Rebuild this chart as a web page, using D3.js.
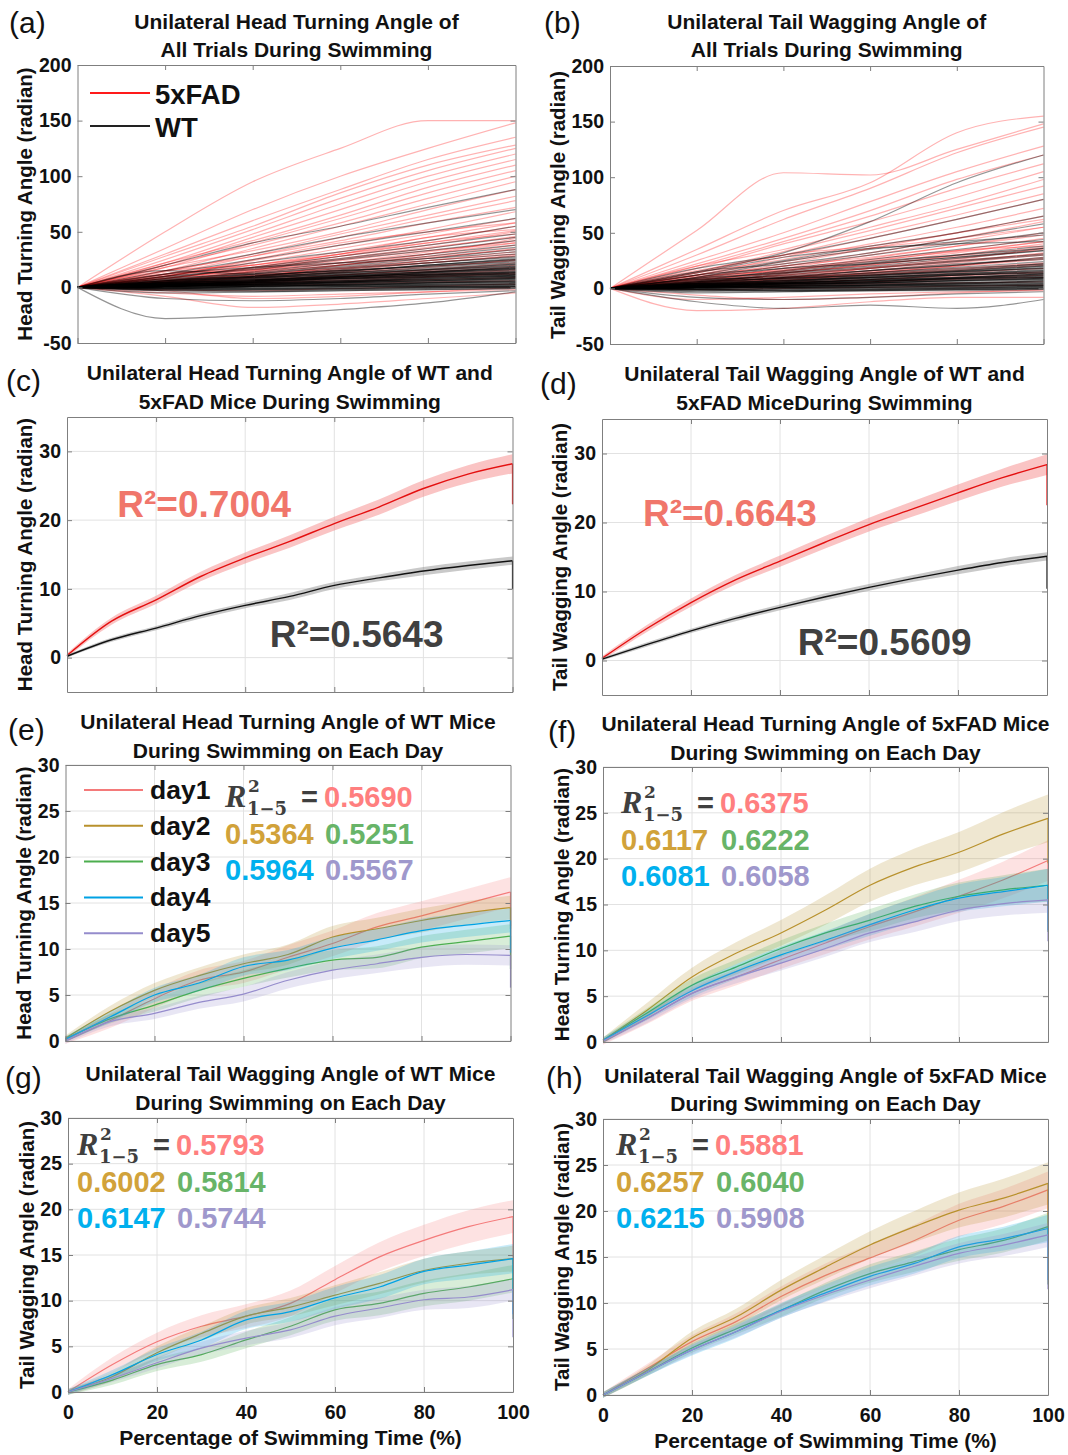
<!DOCTYPE html>
<html>
<head>
<meta charset="utf-8">
<script src="https://cdn.jsdelivr.net/npm/d3@7"></script>
<style>
  body { margin: 0; background: #fff; }
  svg { display: block; font-family: "Liberation Sans", Arial, sans-serif; }
</style>
</head>
<body>
<svg width="1068" height="1455"></svg>
<script>
// ---- data: single trials (panels a, b), values at tracePct ----
var tracePct = [0, 20, 40, 60, 80, 100];

var headFADTrials = [
  [0,50,95,125,150,150],[0,35,70,100,125,148],[0,30,60,88,115,135],[0,28,55,85,110,128],
  [0,25,52,80,105,125],[0,22,48,75,100,120],[0,20,45,70,95,115],[0,22,42,65,90,110],
  [0,18,40,62,85,105],[0,20,38,58,80,100],[0,15,35,55,75,95],[0,18,33,50,70,88],
  [0,14,30,48,65,82],[0,12,28,45,62,78],[0,15,28,42,58,72],[0,10,24,38,52,68],
  [0,12,22,35,48,62],[0,10,20,32,45,58],[0,8,18,30,42,55],[0,10,18,28,38,50],
  [0,8,16,25,35,46],[0,6,14,22,32,42],[0,8,14,20,28,38],[0,5,12,18,26,35],
  [0,6,10,16,24,32],[0,4,10,15,22,28],[0,5,8,13,18,25],[0,3,7,11,16,22],
  [0,4,6,9,14,18],[0,2,5,8,11,15],[0,3,4,6,9,12],[0,1,3,5,7,9],
  [0,2,2,3,5,6],[0,-2,-3,-1,1,3],[0,-5,-8,-6,-4,-2],[0,-8,-18,-15,-10,-5],
  [0,-3,-10,-8,-4,0],[0,10,25,40,50,58],[0,15,20,30,45,52],[0,6,15,28,40,48],
  [0,12,16,22,30,40],[0,3,9,20,30,44],[0,7,13,20,27,34],[0,5,11,17,24,30],
  [0,9,15,24,33,40],[0,4,9,14,19,24],[0,3,6,11,15,20],[0,2,5,9,12,16],
  [0,6,11,17,22,29],[0,1,4,7,10,13],[0,8,17,26,36,45],[0,11,20,30,40,51]
];
var headWTTrials = [
  [0,20,40,55,72,88],[0,15,30,45,58,70],[0,12,25,38,50,62],[0,10,22,32,42,55],
  [0,8,18,28,38,48],[0,10,16,25,33,42],[0,7,14,22,30,38],[0,6,12,19,26,34],
  [0,8,12,18,24,30],[0,5,10,16,22,28],[0,6,9,14,20,25],[0,4,8,13,18,22],
  [0,5,8,12,16,20],[0,3,7,10,14,18],[0,4,6,9,13,16],[0,2,5,8,11,14],
  [0,3,5,7,10,12],[0,2,4,6,8,10],[0,1,3,5,7,9],[0,2,3,4,6,8],
  [0,1,2,3,5,6],[0,0,1,2,3,4],[0,1,1,1,2,3],[0,-1,0,1,1,2],
  [0,-2,-1,0,1,1],[0,-3,-2,-1,0,0],[0,-5,-4,-3,-2,-1],[0,-28,-25,-20,-14,-4],
  [0,-10,-12,-10,-6,-3],[0,15,12,15,20,25],[0,12,18,22,26,32],[0,6,11,15,19,23],
  [0,3,8,12,15,19],[0,4,7,10,12,15],[0,5,9,11,14,17],[0,2,6,9,12,13],
  [0,3,4,8,9,11],[0,1,4,6,9,11],[0,2,2,5,7,9],[0,1,3,4,5,7],
  [0,6,13,20,28,36],[0,9,17,26,35,45],[0,4,9,14,20,26],[0,7,10,17,22,27],
  [0,2,6,11,16,21],[0,3,5,9,13,17],[0,1,2,4,6,8],[0,-1,1,2,4,5],
  [0,0,-1,-1,0,1],[0,-2,-3,-2,-1,0],
  [0,3,6,10,14,17],[0,2,5,9,13,16],[0,4,7,9,11,14],[0,1,4,7,10,13],
  [0,3,5,8,10,12],[0,2,4,6,9,11],[0,1,3,5,8,10],[0,2,3,6,7,9],
  [0,1,2,4,6,7],[0,0,2,3,4,6],[0,1,1,3,4,5],[0,-1,1,2,3,4],
  [0,0,0,1,2,3],[0,-1,-1,0,1,2],[0,-2,-2,-1,0,1],[0,5,10,15,19,24],
  [0,4,9,13,17,21],[0,6,10,13,16,19],[0,3,7,11,14,18],[0,2,6,10,12,14],
  [0,4,6,8,11,13],[0,1,5,8,11,12],[0,3,4,5,8,10],[0,2,3,5,6,8],
  [0,1,2,2,4,5],[0,0,1,2,2,3],[0,-3,-4,-3,-2,-1],[0,-1,-2,-2,-1,0]
];
var tailFADTrials = [
  [0,35,70,95,140,155],[0,52,104,102,125,148],[0,30,62,90,122,145],[0,25,50,78,105,128],
  [0,22,45,70,98,120],[0,20,42,65,90,112],[0,18,40,60,82,105],[0,20,35,55,75,98],
  [0,15,33,52,72,92],[0,16,30,48,66,85],[0,12,28,45,62,80],[0,14,26,40,55,72],
  [0,10,22,36,50,65],[0,12,20,32,45,60],[0,8,18,30,42,55],[0,10,17,27,38,50],
  [0,7,15,24,34,45],[0,8,14,21,30,40],[0,6,12,19,27,35],[0,5,10,16,23,30],
  [0,6,9,14,20,26],[0,4,8,12,17,22],[0,3,6,10,14,18],[0,4,5,8,11,14],
  [0,2,4,6,8,10],[0,1,2,4,5,6],[0,-1,0,1,2,3],[0,-10,-8,-5,-3,-2],
  [0,-20,-18,-12,-8,-8],[0,-6,-10,-8,-4,-1],[0,12,24,36,45,55],[0,9,20,28,38,48],
  [0,14,30,38,50,62],[0,5,13,22,32,42],[0,3,9,18,26,36],[0,8,11,18,24,32],
  [0,2,7,14,20,28],[0,11,16,26,34,38],[0,6,12,18,25,31],[0,4,9,15,21,27],
  [0,7,14,21,29,37],[0,3,7,12,16,21],[0,2,5,8,12,15],[0,5,10,13,18,23],
  [0,9,16,25,33,42],[0,1,3,6,9,12]
];
var tailWTTrials = [
  [0,15,32,60,95,120],[0,18,30,45,62,80],[0,12,25,38,50,65],[0,15,22,32,45,58],
  [0,10,20,30,40,50],[0,12,18,26,35,44],[0,8,15,23,30,38],[0,9,14,20,27,34],
  [0,6,12,18,24,30],[0,7,11,16,21,27],[0,5,9,14,19,24],[0,6,9,12,16,21],
  [0,4,7,11,15,18],[0,5,7,10,13,16],[0,3,6,9,12,14],[0,4,5,7,10,12],
  [0,2,4,6,8,10],[0,3,4,5,7,8],[0,1,3,4,5,6],[0,2,2,3,4,5],
  [0,1,1,2,3,3],[0,0,1,1,2,2],[0,-1,0,0,1,1],[0,-2,-1,-1,0,0],
  [0,-4,-3,-2,-1,-1],[0,-12,-18,-15,-18,-10],[0,-8,-10,-8,-5,-3],[0,10,24,35,42,48],
  [0,14,28,36,40,42],[0,7,16,24,30,36],[0,5,13,19,25,31],[0,8,10,16,22,26],
  [0,3,8,13,17,22],[0,4,6,10,14,19],[0,2,5,8,12,15],[0,3,3,6,9,13],
  [0,1,2,5,7,9],[0,2,1,3,4,7],[0,0,2,3,3,4],[0,-1,-2,-1,0,2],
  [0,6,14,22,28,34],[0,4,10,16,21,28],[0,9,18,22,28,36],[0,2,6,11,15,20],
  [0,1,4,8,10,13],
  [0,3,6,9,13,17],[0,2,5,8,12,15],[0,4,7,10,12,14],[0,1,4,6,9,12],
  [0,3,5,7,9,11],[0,2,4,6,8,10],[0,1,3,5,7,9],[0,2,3,5,6,8],
  [0,1,2,3,5,7],[0,0,2,3,4,5],[0,1,1,2,3,4],[0,-1,0,1,2,3],
  [0,0,0,1,1,2],[0,-1,-1,0,0,1],[0,-2,-2,-2,-1,0],[0,5,10,14,18,22],
  [0,4,8,12,16,20],[0,6,9,12,15,18],[0,3,7,10,13,16],[0,2,5,8,10,13],
  [0,4,5,7,9,11],[0,1,4,7,9,10],[0,3,4,5,7,9],[0,2,2,4,5,6],
  [0,1,1,2,2,3],[0,-3,-3,-2,-2,-1],[0,-1,-2,-1,-1,0]
];

// ---- data: mean +/- sem curves (panels c-h), values at pct ----
var pct = [0, 10, 20, 30, 40, 50, 60, 70, 80, 90, 100];

var headFADMean = [0.3,5.3,8.4,11.8,14.5,16.9,19.5,21.9,24.6,26.7,28.2];
var headFADSem  = [0.3,0.5,0.6,0.7,0.8,0.9,1.0,1.1,1.2,1.3,1.4];
var headWTMean  = [0.2,2.6,4.3,6.1,7.6,8.9,10.5,11.6,12.6,13.4,14.1];
var headWTSem   = [0.2,0.3,0.3,0.4,0.4,0.5,0.5,0.5,0.6,0.6,0.6];
var headEndDrop = [22.3, 10.0];   // 5xFAD, WT value after last sample

var tailFADMean = [0.3,4.6,8.4,11.7,14.4,17.1,19.7,22.0,24.3,26.5,28.4];
var tailFADSem  = [0.3,0.5,0.6,0.7,0.8,0.9,1.0,1.1,1.2,1.3,1.5];
var tailWTMean  = [0.2,2.3,4.3,6.1,7.7,9.2,10.6,11.9,13.1,14.2,15.1];
var tailWTSem   = [0.2,0.3,0.3,0.4,0.4,0.5,0.5,0.5,0.6,0.6,0.6];
var tailEndDrop = [22.5, 10.4];

var days = ["day1", "day2", "day3", "day4", "day5"];

var headWTDayMean = [
  [0,2.2,4.6,6.6,7.5,9.1,10.6,12.4,13.6,14.9,16.2],
  [0.3,3.2,5.5,7.1,8.4,9.4,11.3,12.2,13.1,13.9,14.5],
  [0.2,2.4,3.9,5.5,6.8,7.9,8.8,9.1,10.2,10.8,11.4],
  [0.2,2.6,5.0,6.3,8.1,8.8,10.1,11.0,12.0,12.6,13.1],
  [0,2.1,3.0,4.2,5.1,6.6,7.7,8.4,9.1,9.4,9.3]
];
var headWTDaySem = [
  [0.3,0.8,1.0,1.1,1.2,1.3,1.4,1.5,1.6,1.6,1.6],
  [0.3,0.6,0.8,0.9,1.0,1.1,1.2,1.2,1.3,1.3,1.3],
  [0.3,0.5,0.7,0.8,0.9,1.0,1.1,1.2,1.2,1.3,1.3],
  [0.3,0.6,0.8,0.9,1.0,1.1,1.2,1.2,1.3,1.3,1.3],
  [0.3,0.5,0.6,0.7,0.8,0.9,1.0,1.0,1.1,1.1,1.1]
];
var headWTDayDrop = [12.5, 12.2, 7.8, 9.6, 5.8];
var headWTR2 = ["0.5690", "0.5364", "0.5251", "0.5964", "0.5567"];

var headFADDayMean = [
  [0,2.6,5.3,7.1,9.0,10.8,12.6,14.2,15.9,17.7,19.8],
  [0.2,3.5,7.1,9.7,11.9,14.4,17.1,19.1,20.7,22.7,24.4],
  [0.2,3.2,6.2,8.2,10.2,11.9,13.3,14.8,15.9,16.6,17.1],
  [0.2,2.9,5.6,7.7,9.5,11.1,12.8,14.4,15.7,16.4,17.1],
  [0.1,2.6,5.3,7.1,8.6,10.2,11.9,13.1,14.4,15.1,15.5]
];
var headFADDaySem = [
  [0.3,0.6,0.8,0.9,1.0,1.2,1.4,1.6,1.8,2.0,2.2],
  [0.3,0.8,1.0,1.2,1.4,1.6,1.8,2.0,2.2,2.4,2.6],
  [0.3,0.5,0.7,0.8,0.9,1.0,1.2,1.3,1.5,1.6,1.8],
  [0.3,0.5,0.7,0.8,0.9,1.0,1.2,1.3,1.5,1.6,1.8],
  [0.3,0.5,0.6,0.7,0.8,0.9,1.0,1.1,1.2,1.3,1.4]
];
var headFADDayDrop = [15.0, 19.5, 12.0, 12.2, 11.0];
var headFADR2 = ["0.6375", "0.6117", "0.6222", "0.6081", "0.6058"];

var tailWTDayMean = [
  [0,3.0,5.5,7.2,8.3,9.7,12.3,14.8,16.6,18.1,19.2],
  [0,1.7,4.3,6.4,8.3,9.3,10.6,11.9,13.3,14.1,14.6],
  [0,1.3,3.0,4.1,5.7,7.2,9.0,9.7,10.8,11.5,12.4],
  [0,1.9,4.1,5.7,7.9,8.8,10.3,11.5,13.2,13.9,14.6],
  [0,1.5,3.2,4.8,5.9,6.8,8.3,9.2,10.1,10.4,11.2]
];
var tailWTDaySem = [
  [0.3,0.8,1.0,1.2,1.3,1.4,1.5,1.6,1.7,1.8,1.8],
  [0.3,0.5,0.7,0.8,0.9,1.0,1.1,1.2,1.3,1.3,1.4],
  [0.3,0.5,0.7,0.8,0.9,1.0,1.2,1.3,1.4,1.5,1.5],
  [0.3,0.5,0.7,0.9,1.0,1.1,1.2,1.3,1.4,1.5,1.6],
  [0.3,0.4,0.6,0.7,0.8,0.9,1.0,1.1,1.1,1.2,1.2]
];
var tailWTDayDrop = [14.0, 9.0, 8.0, 8.5, 6.0];
var tailWTR2 = ["0.5793", "0.6002", "0.5814", "0.6147", "0.5744"];

var tailFADDayMean = [
  [0,2.9,5.8,8.0,10.7,13.0,14.9,16.8,19.0,20.5,22.3],
  [0,2.7,6.2,8.5,11.4,13.9,16.3,18.3,20.1,21.4,23.0],
  [0,2.5,5.1,7.2,9.2,11.4,13.2,14.5,15.8,16.8,18.3],
  [0,2.5,4.9,6.9,9.2,11.1,12.9,14.3,16.1,17.0,18.1],
  [0,2.5,4.9,6.9,9.1,10.9,12.5,14.0,15.4,16.3,17.4]
];
var tailFADDaySem = [
  [0.3,0.5,0.7,0.9,1.1,1.3,1.5,1.7,1.8,1.9,2.0],
  [0.3,0.5,0.7,0.9,1.1,1.3,1.5,1.7,1.9,2.1,2.3],
  [0.3,0.4,0.5,0.6,0.7,0.8,1.0,1.1,1.2,1.3,1.5],
  [0.3,0.4,0.6,0.7,0.8,0.9,1.0,1.1,1.2,1.3,1.5],
  [0.3,0.4,0.5,0.6,0.7,0.8,0.9,1.0,1.1,1.2,1.3]
];
var tailFADDayDrop = [18.0, 18.0, 12.0, 12.5, 11.5];
var tailFADR2 = ["0.5881", "0.6257", "0.6040", "0.6215", "0.5908"];

// ---- styles ----
var dayLine = ["#f47a7a", "#b8912c", "#4cae4f", "#00a2e4", "#958ccc"];
var dayText = ["#ff7f7f", "#d1a23a", "#68b468", "#00b0ee", "#9f98cc"];
var frameColor = "#7f7f7f", gridColor = "#e2e2e2";
var TITLE_FS = 21, YLAB_FS = 20.5, TICK_FS = 19.5;

var svg = d3.select("svg");
svg.append("rect").attr("width", 1068).attr("height", 1455).attr("fill", "#fff");

function panel(o) {
  var x = d3.scaleLinear().domain([0, 100]).range([o.l, o.r]),
      y = d3.scaleLinear().domain(o.yDomain).range([o.b, o.t]);
  var g = svg.append("g");

  if (o.grid) {
    g.append("g").selectAll("line").data([20, 40, 60, 80]).join("line")
      .attr("x1", function(d) { return x(d); }).attr("x2", function(d) { return x(d); })
      .attr("y1", o.t).attr("y2", o.b).attr("stroke", gridColor);
    g.append("g").selectAll("line").data(o.yTicks).join("line")
      .attr("y1", function(d) { return y(d); }).attr("y2", function(d) { return y(d); })
      .attr("x1", o.l).attr("x2", o.r).attr("stroke", gridColor);
  }
  var body = g.append("g");

  var fmt = function(d) { return String(d); };
  var axes = g.append("g").attr("class", "axes");
  axes.append("g").attr("transform", "translate(0," + o.b + ")")
    .call(d3.axisBottom(x).tickValues([0, 20, 40, 60, 80, 100]).tickSizeInner(-5).tickSizeOuter(0)
      .tickPadding(13).tickFormat(o.xLabels ? fmt : ""));
  axes.append("g").attr("transform", "translate(0," + o.t + ")")
    .call(d3.axisTop(x).tickValues([20, 40, 60, 80]).tickSizeInner(-5).tickSizeOuter(0).tickFormat(""));
  axes.append("g").attr("transform", "translate(" + o.l + ",0)")
    .call(d3.axisLeft(y).tickValues(o.yTicks).tickSizeInner(-5).tickSizeOuter(0).tickPadding(6).tickFormat(fmt));
  axes.append("g").attr("transform", "translate(" + o.r + ",0)")
    .call(d3.axisRight(y).tickValues(o.yTicks).tickSizeInner(-5).tickSizeOuter(0).tickFormat(""));
  axes.selectAll(".domain").attr("stroke", frameColor);
  axes.selectAll(".tick line").attr("stroke", frameColor);
  axes.selectAll("text").attr("font-size", TICK_FS).attr("font-weight", "bold").attr("fill", "#111")
    .attr("font-family", "'Liberation Sans', Arial, sans-serif");

  // title
  var cx = (o.l + o.r) / 2;
  o.title.forEach(function(s, i) {
    svg.append("text").attr("x", cx).attr("y", o.titleY[i]).attr("text-anchor", "middle")
      .attr("font-size", TITLE_FS).attr("font-weight", "bold").attr("fill", "#111").text(s);
  });
  // panel letter
  svg.append("text").attr("x", o.letterPos[0]).attr("y", o.letterPos[1])
    .attr("font-size", 30).attr("fill", "#111").text(o.letter);
  // y label
  svg.append("text")
    .attr("transform", "translate(" + o.ylabelX + "," + ((o.t + o.b) / 2) + ") rotate(-90)")
    .attr("text-anchor", "middle").attr("font-size", YLAB_FS).attr("font-weight", "bold")
    .attr("fill", "#111").text(o.ylabel);
  if (o.xLabels) {
    svg.append("text").attr("x", cx).attr("y", o.b + 53).attr("text-anchor", "middle")
      .attr("font-size", 21).attr("font-weight", "bold").attr("fill", "#111")
      .text("Percentage of Swimming Time (%)");
  }
  return {g: body, x: x, y: y};
}

function drawTrials(p, trials, color, opacity) {
  var line = d3.line()
    .x(function(d, i) { return p.x(tracePct[i]); })
    .y(function(d) { return p.y(d); })
    .curve(d3.curveMonotoneX);
  p.g.append("g").selectAll("path").data(trials).join("path")
    .attr("d", line).attr("fill", "none")
    .attr("stroke", color).attr("stroke-opacity", opacity).attr("stroke-width", 1.2);
}

function drawMean(p, mean, sem, drop, lineColor, bandColor, bandOpacity, width) {
  var area = d3.area()
    .x(function(d, i) { return p.x(pct[i]); })
    .y0(function(d, i) { return p.y(d - sem[i]); })
    .y1(function(d, i) { return p.y(d + sem[i]); })
    .curve(d3.curveMonotoneX);
  var line = d3.line()
    .x(function(d, i) { return p.x(pct[i]); })
    .y(function(d) { return p.y(d); })
    .curve(d3.curveMonotoneX);
  p.g.append("path").attr("d", area(mean)).attr("fill", bandColor).attr("fill-opacity", bandOpacity);
  p.g.append("path").attr("d", line(mean)).attr("fill", "none")
    .attr("stroke", lineColor).attr("stroke-width", width);
  p.g.append("line").attr("x1", p.x(100)).attr("x2", p.x(100))
    .attr("y1", p.y(mean[mean.length - 1])).attr("y2", p.y(drop))
    .attr("stroke", lineColor).attr("stroke-width", 1.2);
}

function drawDays(p, means, sems, drops) {
  means.forEach(function(m, i) {
    drawMean(p, m, sems[i], drops[i], dayLine[i], dayLine[i], 0.22, 1.2);
  });
}

// R^2 block for per-day panels: pos = [x of R, baseline of row 1]
function r2Block(pos, vals) {
  var fx = pos[0], fy = pos[1], col2 = fx + 100, rowH = [0, 37, 73];
  var t = svg.append("g").attr("font-weight", "bold");
  t.append("text").attr("x", fx).attr("y", fy).attr("font-family", "'Liberation Serif', serif")
    .attr("font-style", "italic").attr("font-size", 32).attr("fill", "#3f3f3f").text("R");
  t.append("text").attr("x", fx + 23).attr("y", fy - 15).attr("font-family", "'DejaVu Serif', serif")
    .attr("font-size", 17).attr("fill", "#3f3f3f").text("2");
  t.append("text").attr("x", fx + 22).attr("y", fy + 8).attr("font-family", "'DejaVu Serif', serif")
    .attr("font-size", 18).attr("fill", "#3f3f3f").text("1\u22125");
  t.append("text").attr("x", fx + 76).attr("y", fy).attr("font-size", 29).attr("fill", "#3f3f3f").text("=");
  var spots = [[fx + 99, fy], [fx, fy + rowH[1]], [col2, fy + rowH[1]], [fx, fy + rowH[2]], [col2, fy + rowH[2]]];
  vals.forEach(function(v, i) {
    t.append("text").attr("x", spots[i][0]).attr("y", spots[i][1]).attr("font-size", 29)
      .attr("fill", dayText[i]).text(v);
  });
}

// ---- (a) ----
var pa = panel({l: 77.5, r: 515.5, t: 65, b: 343, yDomain: [-50, 200], yTicks: [-50, 0, 50, 100, 150, 200],
  grid: false, xLabels: false, title: ["Unilateral Head Turning Angle of", "All Trials During Swimming"],
  titleY: [29, 57], letter: "(a)", letterPos: [9, 33], ylabel: "Head Turning Angle (radian)", ylabelX: 32});
drawTrials(pa, headFADTrials, "#ff0000", 0.3);
drawTrials(pa, headWTTrials, "#000000", 0.42);
svg.append("line").attr("x1", 90).attr("x2", 150).attr("y1", 93).attr("y2", 93).attr("stroke", "#ff1a1a").attr("stroke-width", 2);
svg.append("line").attr("x1", 90).attr("x2", 150).attr("y1", 126).attr("y2", 126).attr("stroke", "#222").attr("stroke-width", 2);
svg.append("text").attr("x", 155).attr("y", 104).attr("font-size", 27.5).attr("font-weight", "bold").attr("fill", "#111").text("5xFAD");
svg.append("text").attr("x", 155).attr("y", 137).attr("font-size", 27.5).attr("font-weight", "bold").attr("fill", "#111").text("WT");

// ---- (b) ----
var pb = panel({l: 610, r: 1043.5, t: 66, b: 344, yDomain: [-50, 200], yTicks: [-50, 0, 50, 100, 150, 200],
  grid: false, xLabels: false, title: ["Unilateral Tail Wagging Angle of", "All Trials During Swimming"],
  titleY: [29, 57], letter: "(b)", letterPos: [544, 33], ylabel: "Tail Wagging Angle (radian)", ylabelX: 565});
drawTrials(pb, tailFADTrials, "#ff0000", 0.3);
drawTrials(pb, tailWTTrials, "#000000", 0.42);

// ---- (c) ----
var pc = panel({l: 67, r: 512.5, t: 417, b: 692, yDomain: [-5, 35], yTicks: [0, 10, 20, 30],
  grid: true, xLabels: false, title: ["Unilateral Head Turning Angle of WT and", "5xFAD Mice During Swimming"],
  titleY: [380, 409], letter: "(c)", letterPos: [6, 391], ylabel: "Head Turning Angle (radian)", ylabelX: 32});
drawMean(pc, headFADMean, headFADSem, headEndDrop[0], "#e41010", "#f47d7d", 0.45, 1.4);
drawMean(pc, headWTMean, headWTSem, headEndDrop[1], "#111", "#888", 0.45, 1.4);
svg.append("text").attr("x", pc.x(11.3)).attr("y", pc.y(20.4)).attr("font-size", 37).attr("font-weight", "bold")
  .attr("fill", "#f0766b").text("R\u00b2=0.7004");
svg.append("text").attr("x", pc.x(45.5)).attr("y", pc.y(1.6)).attr("font-size", 37).attr("font-weight", "bold")
  .attr("fill", "#404040").text("R\u00b2=0.5643");

// ---- (d) ----
var pd = panel({l: 602, r: 1047, t: 419, b: 695, yDomain: [-5, 35], yTicks: [0, 10, 20, 30],
  grid: true, xLabels: false, title: ["Unilateral Tail Wagging Angle of WT and", "5xFAD MiceDuring Swimming"],
  titleY: [381, 410], letter: "(d)", letterPos: [540, 394], ylabel: "Tail Wagging Angle (radian)", ylabelX: 567});
drawMean(pd, tailFADMean, tailFADSem, tailEndDrop[0], "#e41010", "#f47d7d", 0.45, 1.4);
drawMean(pd, tailWTMean, tailWTSem, tailEndDrop[1], "#111", "#888", 0.45, 1.4);
svg.append("text").attr("x", pd.x(9.2)).attr("y", pd.y(19.5)).attr("font-size", 37).attr("font-weight", "bold")
  .attr("fill", "#f0766b").text("R\u00b2=0.6643");
svg.append("text").attr("x", pd.x(44)).attr("y", pd.y(0.8)).attr("font-size", 37).attr("font-weight", "bold")
  .attr("fill", "#404040").text("R\u00b2=0.5609");

// ---- (e) ----
var pe = panel({l: 65.5, r: 510.5, t: 765, b: 1041, yDomain: [0, 30], yTicks: [0, 5, 10, 15, 20, 25, 30],
  grid: true, xLabels: false, title: ["Unilateral Head Turning Angle of WT Mice", "During Swimming on Each Day"],
  titleY: [729, 758], letter: "(e)", letterPos: [8, 740], ylabel: "Head Turning Angle (radian)", ylabelX: 31});
drawDays(pe, headWTDayMean, headWTDaySem, headWTDayDrop);
days.forEach(function(d, i) {
  var yy = 790 + i * 35.8;
  svg.append("line").attr("x1", 84).attr("x2", 143).attr("y1", yy).attr("y2", yy)
    .attr("stroke", dayLine[i]).attr("stroke-width", 2);
  svg.append("text").attr("x", 150).attr("y", yy + 9).attr("font-size", 26.5).attr("font-weight", "bold")
    .attr("fill", "#111").text(d);
});
r2Block([225, 807], headWTR2);

// ---- (f) ----
var pf = panel({l: 603, r: 1048, t: 767, b: 1042, yDomain: [0, 30], yTicks: [0, 5, 10, 15, 20, 25, 30],
  grid: true, xLabels: false, title: ["Unilateral Head Turning Angle of 5xFAD Mice", "During Swimming on Each Day"],
  titleY: [731, 760], letter: "(f)", letterPos: [548, 742], ylabel: "Head Turning Angle (radian)", ylabelX: 569});
drawDays(pf, headFADDayMean, headFADDaySem, headFADDayDrop);
r2Block([621, 813], headFADR2);

// ---- (g) ----
var pg = panel({l: 68, r: 513, t: 1118, b: 1392, yDomain: [0, 30], yTicks: [0, 5, 10, 15, 20, 25, 30],
  grid: true, xLabels: true, title: ["Unilateral Tail Wagging Angle of WT Mice", "During Swimming on Each Day"],
  titleY: [1081, 1110], letter: "(g)", letterPos: [5, 1088], ylabel: "Tail Wagging Angle (radian)", ylabelX: 34});
drawDays(pg, tailWTDayMean, tailWTDaySem, tailWTDayDrop);
r2Block([77, 1155], tailWTR2);

// ---- (h) ----
var ph = panel({l: 603, r: 1048, t: 1119, b: 1395, yDomain: [0, 30], yTicks: [0, 5, 10, 15, 20, 25, 30],
  grid: true, xLabels: true, title: ["Unilateral Tail Wagging Angle of 5xFAD Mice", "During Swimming on Each Day"],
  titleY: [1083, 1111], letter: "(h)", letterPos: [546, 1088], ylabel: "Tail Wagging Angle (radian)", ylabelX: 569});
drawDays(ph, tailFADDayMean, tailFADDaySem, tailFADDayDrop);
r2Block([616, 1155], tailFADR2);
</script>
</body>
</html>
